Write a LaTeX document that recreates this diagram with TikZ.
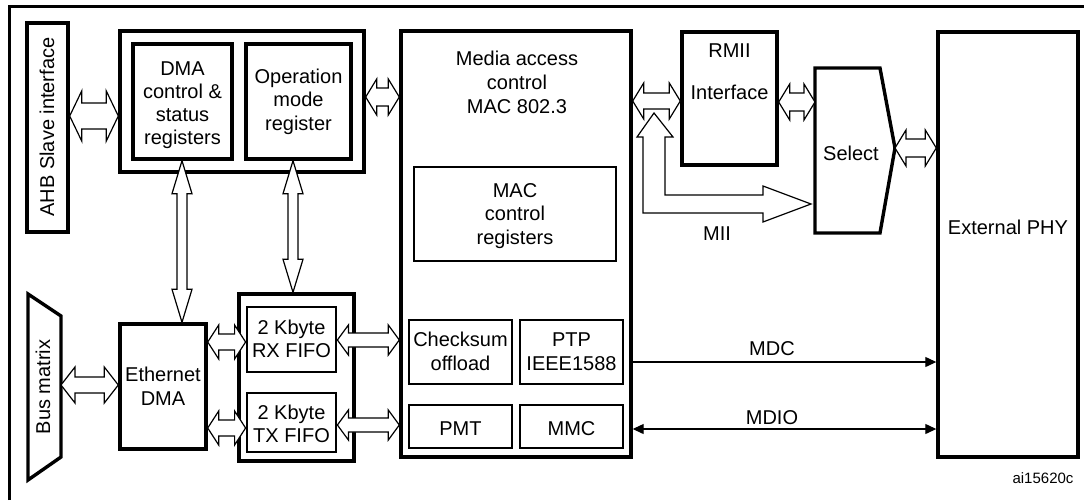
\documentclass[tikz,border=0pt]{standalone}
\usepackage{fontspec}
\setmainfont{Liberation Sans}
\usetikzlibrary{arrows.meta,fit,calc}
\tikzset{
  thickbox/.style={draw, line width=1.7pt, inner sep=0pt},
  medbox/.style={thickbox, line width=1.4pt},
  thinbox/.style={thickbox, line width=1.0pt},
  lbl/.style={font=\fontsize{10}{12}\selectfont, inner sep=0pt, align=center},
  bl/.style={lbl, anchor=base},
  small/.style={font=\fontsize{7.5}{9}\selectfont, inner sep=0pt},
  hollow/.style={draw, line width=0.6pt, fill=white, line join=miter},
  sig/.style={line width=0.6pt},
  frame/.style={line width=1.2pt}
}
% horizontal hollow double arrow: #1 left tip, #2 right tip (y of #1), #3 shaft half, #4 head half, #5 head length
\newcommand\hdarrow[5]{%
  \draw[hollow] let \p1=#1, \p2=#2 in
    (\x1,\y1) -- (\x1+#5,\y1+#4) -- (\x1+#5,\y1+#3) -- (\x2-#5,\y1+#3) -- (\x2-#5,\y1+#4)
    -- (\x2,\y1) -- (\x2-#5,\y1-#4) -- (\x2-#5,\y1-#3) -- (\x1+#5,\y1-#3) -- (\x1+#5,\y1-#4) -- cycle;}
% vertical hollow double arrow: #1 top tip, #2 bottom tip (x of #1)
\newcommand\vdarrow[5]{%
  \draw[hollow] let \p1=#1, \p2=#2 in
    (\x1,\y1) -- (\x1+#4,\y1-#5) -- (\x1+#3,\y1-#5) -- (\x1+#3,\y2+#5) -- (\x1+#4,\y2+#5)
    -- (\x1,\y2) -- (\x1-#4,\y2+#5) -- (\x1-#3,\y2+#5) -- (\x1-#3,\y1-#5) -- (\x1-#4,\y1-#5) -- cycle;}
% text lines: #1 x, #2 first baseline, #3 line step, #4 list of lines
\newcommand\txtlines[4]{%
  \foreach \t [count=\i] in {#4} \node[bl] at (#1,{#2+(\i-1)*#3}) {\t};}
\begin{document}
\begin{tikzpicture}[x=0.5pt,y=-0.5pt]
\useasboundingbox (0,0) rectangle (1084,500);
% frame
\draw[frame] (9.5,500) -- (9.5,6.5) -- (1084,6.5);

% AHB slave interface
\node[thickbox, fit={(27,23)(68,232)}] (ahb) {};
\node[lbl, rotate=90] at (47,127) {AHB Slave interface};

% register group
\node[thickbox, fit={(120,31)(364,172)}] (grp) {};
\node[thickbox, fit={(133,44)(232,159)}] (dmactl) {};
\txtlines{182.5}{75}{23.3}{DMA,control \&,status,registers}
\node[thickbox, fit={(246,44)(351,159)}] (opm) {};
\txtlines{298.5}{83}{23.5}{Operation,mode,register}

% bus matrix
\draw[line width=1.7pt, line join=miter] (28,294) coordinate (bm1) -- (61,316) coordinate (bm2)
  -- (61,457) coordinate (bm3) -- (28,480) coordinate (bm4) -- cycle;
\node[lbl, rotate=90] (busm) at (43,387) {Bus matrix};

% Ethernet DMA
\node[thickbox, fit={(120,324)(206,449)}] (edma) {};
\txtlines{163}{381}{24}{Ethernet,DMA}

% FIFOs
\node[thickbox, fit={(239,294)(354,461)}] (fifo) {};
\node[medbox, fit={(247,307)(336,372)}] (rx) {};
\txtlines{291.5}{334}{23}{2 Kbyte,RX FIFO}
\node[medbox, fit={(247,393)(336,452)}] (tx) {};
\txtlines{291.5}{419}{23}{2 Kbyte,TX FIFO}

% MAC
\node[thickbox, fit={(401,31)(631,457)}] (mac) {};
\txtlines{517}{65}{24}{Media access,control,MAC 802.3}
\node[thinbox, fit={(414,167)(616,261)}] (macreg) {};
\txtlines{515}{197}{23.5}{MAC,control,registers}
\node[thinbox, fit={(409,320)(512,384)}] (csum) {};
\txtlines{460.5}{346}{24}{Checksum,offload}
\node[thinbox, fit={(520,320)(623,384)}] (ptp) {};
\txtlines{571.5}{346}{24}{PTP,IEEE1588}
\node[thinbox, fit={(409,405)(512,448)}] (pmt) {};
\node[bl] at (460.5,435) {PMT};
\node[thinbox, fit={(520,405)(623,448)}] (mmc) {};
\node[bl] at (571.5,435) {MMC};

% RMII
\node[thickbox, fit={(682,32)(777,165)}] (rmii) {};
\node[bl] at (729.5,57) {RMII};
\node[bl] at (729.5,99) {Interface};

% Select
\draw[line width=1.7pt, line join=miter] (815,68) coordinate (sel1) -- (880,68) -- (895,148) coordinate (selpt)
  -- (880,233) -- (815,233) coordinate (sel2) -- cycle;
\node[bl] (seltxt) at (851,160) {Select};

% External PHY
\node[thickbox, fit={(938,32)(1078,457)}] (phy) {};
\node[bl] at (1008,234) {External PHY};

% hollow arrows
\hdarrow{(ahb.east |- 0,116)}{(grp.west |- 0,116)}{6.5pt}{12.5pt}{6pt}
\hdarrow{(grp.east |- 0,97)}{(mac.west |- 0,97)}{4.5pt}{9pt}{5.5pt}
\hdarrow{(mac.east |- 0,101)}{(rmii.west |- 0,101)}{4pt}{9pt}{5.5pt}
\hdarrow{(rmii.east |- 0,102)}{(sel1 |- 0,102)}{4.5pt}{9pt}{5.5pt}
\hdarrow{(selpt)}{(phy.west |- selpt)}{4.5pt}{9pt}{5.5pt}
\hdarrow{(bm2 |- 0,385)}{(edma.west |- 0,385)}{4pt}{9pt}{7pt}
\hdarrow{(edma.east |- 0,342)}{(rx.west |- 0,342)}{4pt}{8.5pt}{5.5pt}
\hdarrow{(edma.east |- 0,428)}{(tx.west |- 0,428)}{4pt}{8.5pt}{5.5pt}
\hdarrow{(rx.east |- 0,340)}{(mac.west |- 0,340)}{3.5pt}{7.5pt}{5.5pt}
\hdarrow{(tx.east |- 0,425)}{(mac.west |- 0,425)}{3.5pt}{7.5pt}{5.5pt}
\vdarrow{(182,0 |- dmactl.south)}{(182,0 |- edma.north)}{2.5pt}{5pt}{16.5pt}
\vdarrow{(293,0 |- opm.south)}{(293,0 |- fifo.north)}{2.5pt}{5pt}{16.5pt}

% MII arrow
\coordinate (miitop) at (654,113);
\coordinate (miiend) at (811,204);
\draw[hollow] (miitop) -- (673,137) -- (665,137) -- (665,195) -- (763,195) -- (763,186)
  -- (miiend) -- (763,222) -- (763,213) -- (643,213) -- (643,137) -- (637,137) -- cycle;
\node[bl] at (717,240) {MII};

% MDC / MDIO
\draw[sig, -{Triangle[length=5.5pt,width=5pt]}] (mac.east |- 0,362) -- (phy.west |- 0,362);
\node[bl] at (772,355) {MDC};
\draw[sig, {Triangle[length=5.5pt,width=5pt]}-{Triangle[length=5.5pt,width=5pt]}] (mac.east |- 0,429) -- (phy.west |- 0,429);
\node[bl] at (772,424) {MDIO};

\node[small, anchor=base] at (1043,483) {ai15620c};
\end{tikzpicture}
\end{document}
